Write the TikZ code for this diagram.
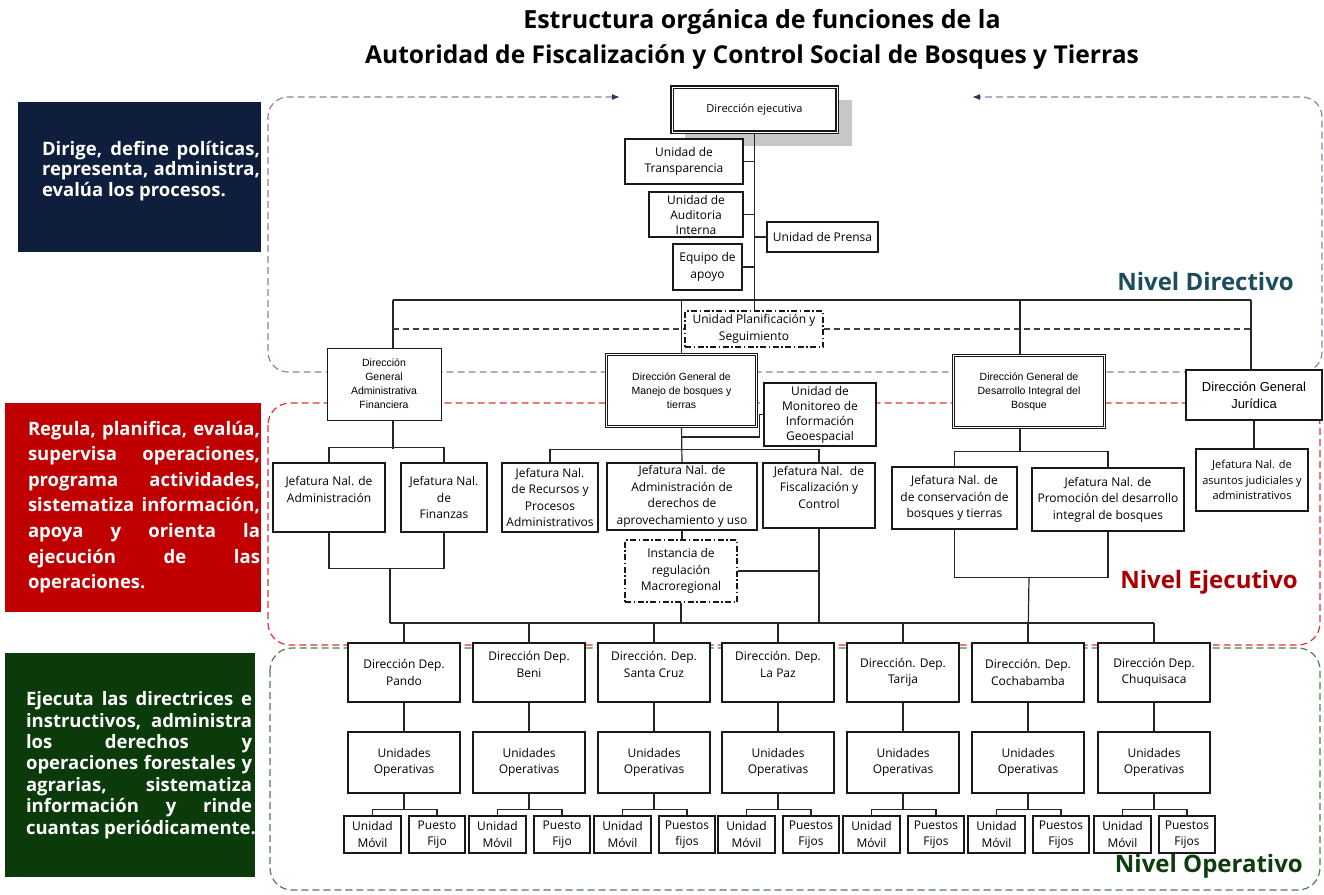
\documentclass[tikz,border=0pt]{standalone}
\usepackage{fontspec}
\setmainfont{Open Sans}
\newfontfamily\arialf{Liberation Sans}
\usetikzlibrary{arrows.meta}
\definecolor{navyb}{HTML}{0E1E3C}
\definecolor{redb}{HTML}{C00000}
\definecolor{greenb}{HTML}{0B3B0B}
\definecolor{purd}{HTML}{8C82A2}
\definecolor{purarrow}{HTML}{3F2D62}
\definecolor{redd}{HTML}{E03232}
\definecolor{greend}{HTML}{4F7F4F}
\definecolor{nivD}{HTML}{1B4D5C}
\definecolor{nivE}{HTML}{A80000}
\definecolor{nivO}{HTML}{0F3D0F}
\newcommand{\jl}[2]{\makebox[#1pt][s]{#2}}
\begin{document}
\begin{tikzpicture}[x=1pt,y=-1pt,
  org/.style={draw=black!90, fill=white, line width=1.1pt, inner sep=1pt, align=center, font=\fontsize{12}{16.5}\selectfont},
  wh/.style 2 args={minimum width=#1pt, minimum height=#2pt},
  dorg/.style={org, line width=0.8pt, double, double distance=1.4pt},
  ddorg/.style={org, dash pattern=on 6pt off 2.5pt on 1.5pt off 2.5pt, line width=1.1pt},
  conn/.style={line width=1.2pt, draw=black!85},
  region/.style={line width=1.2pt, dash pattern=on 7pt off 4pt},
  lbox/.style={inner sep=0pt, draw=none},
  ltext/.style={inner sep=0pt, align=left, text=white},
  nivel/.style={anchor=east, inner sep=0pt, font=\bfseries\fontsize{24}{28}\selectfont},
  arial/.style={font=\arialf\fontsize{10.5}{14}\selectfont}
]
\useasboundingbox (0,0) rectangle (1324,894);
\fill[white] (0,0) rectangle (1324,894);

% title
\node[font=\bfseries\fontsize{25}{30}\selectfont] (t1) at (762,22) {Estructura orgánica de funciones de la};
\node[font=\bfseries\fontsize{24.6}{30}\selectfont] (t2) at (752,57) {Autoridad de Fiscalización y Control Social de Bosques y Tierras};

% left boxes
\node[lbox, fill=navyb, wh={243}{150}] (boxD) at (139.5,177) {};
\node[ltext, font=\bfseries\fontsize{18.5}{20.7}\selectfont] (txtD) at (151,171)
  {\jl{218}{Dirige, define políticas,}\\\jl{218}{representa, administra,}\\evalúa los procesos.};
\node[lbox, fill=redb, wh={256}{209}] (boxE) at (133,507.5) {};
\node[ltext, font=\bfseries\fontsize{18.5}{25.6}\selectfont] (txtE) at (144,507)
  {\jl{232}{Regula, planifica, evalúa,}\\\jl{232}{supervisa operaciones,}\\\jl{232}{programa actividades,}\\\jl{232}{sistematiza información,}\\\jl{232}{apoya y orienta la}\\\jl{232}{ejecución de las}\\operaciones.};
\node[lbox, fill=greenb, wh={250}{224}] (boxO) at (130,765) {};
\node[ltext, font=\bfseries\fontsize{18.5}{21.4}\selectfont] (txtO) at (141,765)
  {\jl{226}{Ejecuta las directrices e}\\\jl{226}{instructivos, administra}\\\jl{226}{los derechos y}\\\jl{226}{operaciones forestales y}\\\jl{226}{agrarias, sistematiza}\\\jl{226}{información y rinde}\\cuantas periódicamente.};

% level regions
\draw[region, draw=purd, rounded corners=20pt,
  {Latex[length=8pt,width=6pt,color=purarrow]}-{Latex[length=8pt,width=6pt,color=purarrow]}]
  (620,97) -- (268,97) -- (268,372) -- (1322,372) -- (1322,97) -- (972,97);
\draw[region, draw=redd, rounded corners=22pt] (268,403) rectangle (1320,645);
\draw[region, draw=greend, rounded corners=22pt] (270,648) rectangle (1320,890);

\node[nivel, text=nivD] (nD) at (1294,281) {Nivel Directivo};
\node[nivel, text=nivE] (nE) at (1298,582) {Nivel Ejecutivo};
\node[nivel, text=nivO] (nO) at (1303,866) {Nivel Operativo};

% directive level
\fill[black!22] (685,100) rectangle (852,146);
\node[org, wh={165}{45}, line width=1.3pt, double, double distance=1pt, font=\fontsize{11}{14}\selectfont] (dirEj) at (754.5,109.5) {Dirección ejecutiva};
\node[org, wh={118}{45}] (uTrans) at (684,161.5) {Unidad de\\Transparencia};
\node[org, wh={94}{45}, font=\fontsize{12}{15}\selectfont] (uAud) at (696,214.5) {Unidad de\\Auditoria\\Interna};
\node[org, wh={111}{30}] (uPrensa) at (822.5,237) {Unidad de Prensa};
\node[org, wh={69}{46}] (eqApoyo) at (707.5,267) {Equipo de\\apoyo};
\node[ddorg, wh={138}{36}] (uPlan) at (754,329) {Unidad Planificación y\\Seguimiento};

\node[org, wh={114}{72}, line width=1pt, arial] (dgaf) at (384,384) {Dirección\\General\\Administrativa\\Financiera};
\node[dorg, wh={150}{72}, arial] (dgm) at (681.5,390.5) {Dirección General de\\Manejo de bosques y\\tierras};
\node[org, wh={112}{63}, font=\fontsize{12}{15}\selectfont] (uMon) at (820,414.5) {Unidad de\\Monitoreo de\\Información\\Geoespacial};
\node[dorg, wh={151}{72}, arial] (dgd) at (1029,391.5) {Dirección General de\\Desarrollo Integral del\\Bosque};
\node[org, wh={136}{50}, font=\arialf\fontsize{13}{17}\selectfont] (dgj) at (1254,395) {Dirección General\\Jurídica};
\node[org, wh={112}{62}, font=\fontsize{11}{15.5}\selectfont] (jAsun) at (1252,480) {Jefatura Nal. de\\asuntos judiciales y\\administrativos};

% executive level
\node[org, wh={112}{69}] (jAdm) at (329,497.5) {Jefatura Nal. de\\Administración\\\mbox{}};
\node[org, wh={86}{69}] (jFin) at (444,497.5) {Jefatura Nal.\\de\\Finanzas};
\node[org, wh={96}{69}] (jRec) at (550,497.5) {Jefatura Nal.\\de Recursos y\\Procesos\\Administrativos};
\node[org, wh={150}{67}] (jDer) at (682,496.5) {Jefatura Nal. de\\Administración de\\derechos de\\aprovechamiento y uso};
\node[org, wh={112}{65}] (jFis) at (819,495.5) {Jefatura Nal.~ de\\Fiscalización y\\Control\\\mbox{}};
\node[ddorg, wh={112}{62}] (inst) at (681,571) {Instancia de\\regulación\\Macroregional};
\node[org, wh={125}{62}] (jCons) at (954.5,498) {Jefatura Nal. de\\de conservación de\\bosques y tierras};
\node[org, wh={152}{63}] (jProm) at (1108,499.5) {Jefatura Nal. de\\Promoción del desarrollo\\integral de bosques};

% operative level
\foreach \i/\c/\t/\pf in {1/404/{Dirección Dep.\\Pando}/{Puesto\\Fijo},
  2/529/{Dirección Dep.\\Beni\\\mbox{}}/{Puesto\\Fijo},
  3/654/{Dirección. Dep.\\Santa Cruz\\\mbox{}}/{Puestos\\fijos},
  4/778/{Dirección. Dep.\\La Paz\\\mbox{}}/{Puestos\\Fijos},
  5/903/{Dirección. Dep.\\Tarija}/{Puestos\\Fijos},
  6/1028/{Dirección. Dep.\\Cochabamba}/{Puestos\\Fijos},
  7/1154/{Dirección Dep.\\Chuquisaca}/{Puestos\\Fijos}}{
  \node[org, wh={112}{59}] (dep\i) at (\c,672.5) {\t};
  \node[org, wh={112}{61}] (uo\i) at (\c,762.5) {Unidades\\Operativas};
  \node[org, wh={57}{37}] (um\i) at (\c-31.5,834.5) {Unidad\\Móvil};
  \node[org, wh={56}{37}] (pf\i) at (\c+33,834.5) {\pf};
}

% bus coordinates
\coordinate (busL) at (393,300);
\coordinate (busR) at (1251,300);
\coordinate (vD) at (1020,300);
\coordinate (mbL) at (390,623);
\coordinate (mbR) at (1154,623);
\coordinate (aJ) at (390,568);
\coordinate (mA) at (682,437);
\coordinate (dJ) at (1029,577);

% directive connectors
\draw[conn] (dirEj.south) -- (dirEj.south |- uPlan.north);
\draw[conn] (uTrans.east) -- (uTrans.east -| dirEj.south);
\draw[conn] (uAud.east) -- (uAud.east -| dirEj.south);
\draw[conn] (eqApoyo.east) -- (eqApoyo.east -| dirEj.south);
\draw[conn] (uPrensa.west) -- (uPrensa.west -| dirEj.south);
\draw[conn] (busL) -- (busR);
\draw[conn] (busL) -- (busL |- dgaf.north);
\draw[conn] (dgm.north |- busL) -- (dgm.north);
\draw[conn] (vD) -- (vD |- dgd.north);
\draw[conn] (busR) -- (busR |- dgj.north);
\draw[line width=1.2pt, draw=black!75, dash pattern=on 6pt off 4pt] (uPlan.west -| busL) -- (uPlan.west);
\draw[line width=1.2pt, draw=black!75, dash pattern=on 6pt off 4pt] (uPlan.east) -- (uPlan.east -| busR);

% executive connectors
\draw[conn] (busL |- dgaf.south) -- ++(0,28);
\draw[conn] (jAdm.north) -- ++(0,-15) -| (jFin.north);
\draw[conn] (jAdm.south) -- ++(0,36) -| (jFin.south);
\draw[conn] (aJ) -- (mbL);
\draw[conn] (dgm.south) -- (jDer.north);
\draw[conn] (jRec.north) -- ++(0,-13) -| (jFis.north);
\draw[conn] (mA) -| ([xshift=-4pt]uMon.west) -- (uMon.west);
\draw[conn] (jDer.south) -- (jDer.south |- inst.north);
\draw[conn] (inst.south) -- (inst.south |- mbL);
\draw[conn] (inst.east) -- (inst.east -| jFis.south);
\draw[conn] (jFis.south) -- (jFis.south |- mbL);
\draw[conn] (vD |- dgd.south) -- ++(0,23);
\draw[conn] (jCons.north) -- ++(0,-15) -| (jProm.north);
\draw[conn] (jCons.south) -- ++(0,48) -| (jProm.south);
\draw[conn] (dJ) -- (dep6.north);
\draw[conn] (dgj.south) -- (dgj.south |- jAsun.north);

% operative connectors
\draw[conn] (mbL) -- (mbR);
\foreach \i in {1,...,7}{
  \draw[conn] (dep\i.north) -- (dep\i.north |- mbL);
  \draw[conn] (dep\i.south) -- (uo\i.north);
  \draw[conn] (uo\i.south) -- ++(0,16) coordinate (k\i);
  \draw[conn] (um\i.north) |- (k\i) -| (pf\i.north);
}
\end{tikzpicture}
\end{document}
